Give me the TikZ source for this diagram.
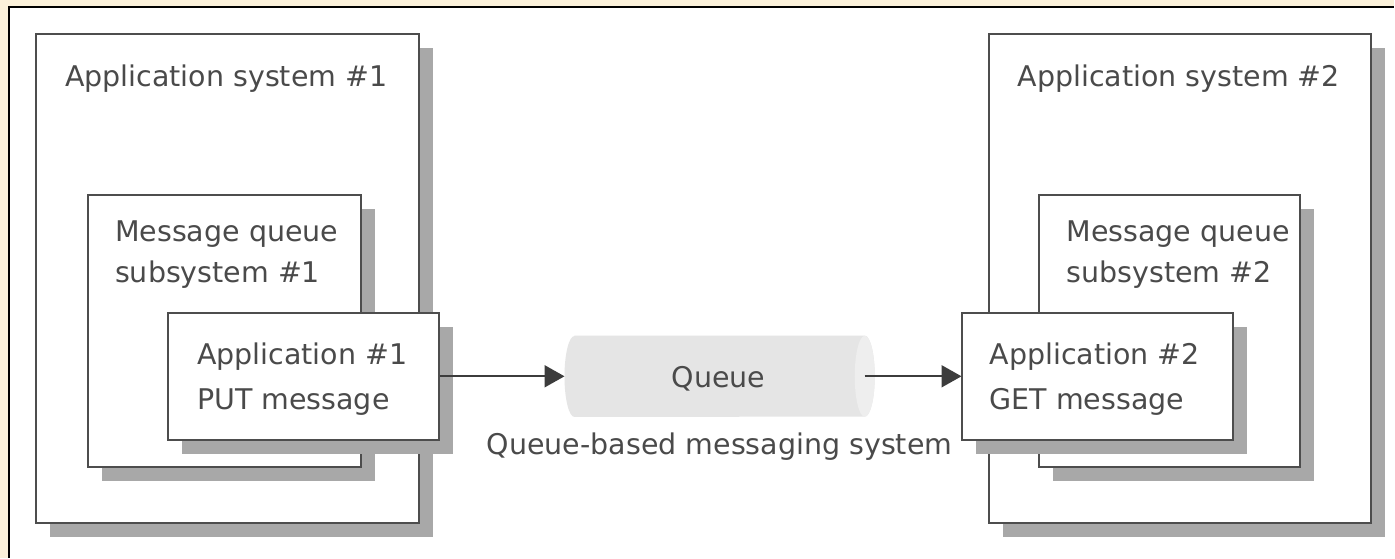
\documentclass[tikz,border=0pt]{standalone}
\usepackage{fontspec}
\setmainfont{DejaVu Sans}
\usetikzlibrary{arrows.meta,shadows}
\definecolor{framebg}{HTML}{FBF1DA}
\definecolor{ink}{HTML}{4A4A4A}
\definecolor{edge}{HTML}{4D4D4D}
\definecolor{shade}{HTML}{A8A8A8}
\definecolor{tube}{HTML}{E5E5E5}
\definecolor{tubeend}{HTML}{EEEEEE}
\definecolor{arrowink}{HTML}{3C3C3C}

\begin{document}
\begin{tikzpicture}[x=1pt,y=-1pt,
  panel/.style={rectangle, draw=edge, line width=2pt, fill=white, inner sep=0pt,
    drop shadow={shadow xshift=14pt, shadow yshift=-14pt, fill=shade, opacity=1}},
  txt/.style={font=\fontsize{28.5}{41.5}\selectfont, text=ink, inner sep=0pt,
    anchor=base west, align=left},
  conn/.style={draw=arrowink, line width=2pt, -{Triangle[length=20pt,width=22pt]}}
]
% page frame
\fill[framebg] (0,0) rectangle (1395,558);
\fill[white] (9,7) rectangle (1395,558);
\draw[black, line width=1.5pt] (9,558) -- (9,7) -- (1395,7);
\useasboundingbox (0,0) rectangle (1395,558);

% left side: application system, subsystem, application
\node[panel, minimum width=383, minimum height=489] (sys1) at (227.5,278.5) {};
\node[panel, minimum width=273, minimum height=272] (sub1) at (224.5,331) {};
\node[panel, minimum width=271, minimum height=127] (app1) at (303.5,376.5) {};

% right side
\node[panel, minimum width=382, minimum height=489] (sys2) at (1181,278.5) {};
\node[panel, minimum width=261, minimum height=272] (sub2) at (1170.5,331) {};
\node[panel, minimum width=271, minimum height=127] (app2) at (1098.5,376.5) {};

% the queue: a horizontal tube with a visible right end
\node[rectangle, draw=none, inner sep=0pt, minimum width=310, minimum height=81]
  (queue) at (720,376.5) {};
\fill[tube] ([xshift=10pt]queue.north west) -- ([xshift=-10pt]queue.north east)
  arc[start angle=90, end angle=-90, x radius=10pt, y radius=40.5pt]
  -- ([xshift=10pt]queue.south west)
  arc[start angle=270, end angle=90, x radius=10pt, y radius=40.5pt] -- cycle;
\fill[tubeend] ([xshift=-10pt]queue.east) ellipse[x radius=10pt, y radius=40.5pt];
\node[txt, anchor=base] (qlabel) at (719,388) {Queue};

% labels
\node[txt] (t1) at (65,87) {Application system \#1};
\node[txt] (t2) at (1018,87) {Application system \#2};
\node[txt] (s1) at (115,283) {Message queue\\subsystem \#1};
\node[txt] (s2) at (1067,283) {Message queue\\subsystem \#2};
\node[txt, font=\fontsize{28.5}{45}\selectfont] (a1) at (197,410) {Application \#1\\PUT message};
\node[txt, font=\fontsize{28.5}{45}\selectfont] (a2) at (990,410) {Application \#2\\GET message};
\node[txt] (cap) at (487,455) {Queue-based messaging system};

% connectors
\draw[conn] (app1.east) -- (queue.west);
\draw[conn] ([xshift=-10pt]queue.east) -- (app2.west);
\end{tikzpicture}
\end{document}
